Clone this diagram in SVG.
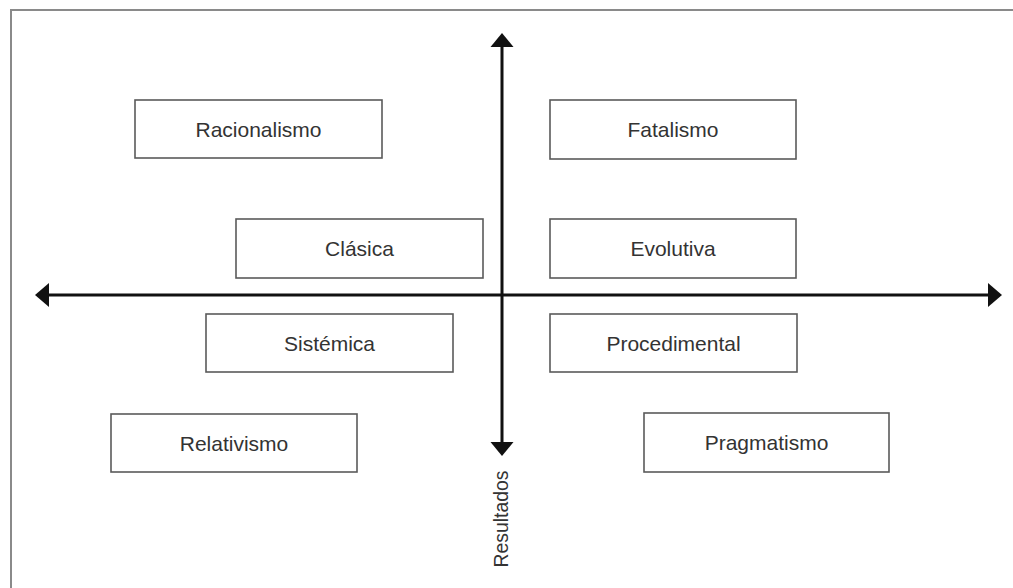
<svg xmlns="http://www.w3.org/2000/svg" width="1013" height="588" viewBox="0 0 1013 588">
<style>
.box{fill:#fff;stroke:#5a5a5a;stroke-width:1.6}
.lbl{font-family:"Liberation Sans",Arial,sans-serif;font-size:21px;fill:#333;text-anchor:middle}
.axis{stroke:#111;stroke-width:3;fill:none}
.head{fill:#111}
</style>
<rect width="1013" height="588" fill="#fff"/>
<path d="M11,588 V10 H1013" fill="none" stroke="#8a8a8a" stroke-width="2"/>
<g id="connectors">
<line class="axis" x1="502" y1="44" x2="502" y2="444"/>
<line class="axis" x1="47" y1="295" x2="991" y2="295"/>
<polygon class="head" points="502,33 513.5,47 490.5,47"/>
<polygon class="head" points="502,456 513.5,442 490.5,442"/>
<polygon class="head" points="35,295 49,283 49,307"/>
<polygon class="head" points="1002,295 988,283 988,307"/>
</g>
<g id="racionalismo"><rect class="box" x="135" y="100" width="247" height="58"/><text class="lbl" x="258.5" y="137">Racionalismo</text></g>
<g id="fatalismo"><rect class="box" x="550" y="100" width="246" height="59"/><text class="lbl" x="673" y="137">Fatalismo</text></g>
<g id="clasica"><rect class="box" x="236" y="219" width="247" height="59"/><text class="lbl" x="359.5" y="256">Clásica</text></g>
<g id="evolutiva"><rect class="box" x="550" y="219" width="246" height="59"/><text class="lbl" x="673" y="256">Evolutiva</text></g>
<g id="sistemica"><rect class="box" x="206" y="314" width="247" height="58"/><text class="lbl" x="329.5" y="351">Sistémica</text></g>
<g id="procedimental"><rect class="box" x="550" y="314" width="247" height="58"/><text class="lbl" x="673.5" y="351">Procedimental</text></g>
<g id="relativismo"><rect class="box" x="111" y="414" width="246" height="58"/><text class="lbl" x="234" y="451">Relativismo</text></g>
<g id="pragmatismo"><rect class="box" x="644" y="413" width="245" height="59"/><text class="lbl" x="766.5" y="450">Pragmatismo</text></g>
<g id="resultados"><text class="lbl" transform="translate(508,519) rotate(-90)" x="0" y="0" font-size="20" textLength="97" lengthAdjust="spacingAndGlyphs">Resultados</text></g>
</svg>
